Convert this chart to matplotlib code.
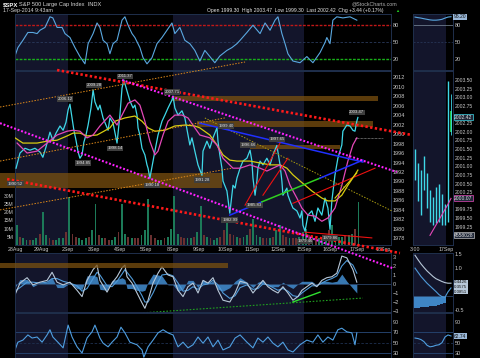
import numpy as np
import matplotlib.pyplot as plt
from matplotlib.patches import Rectangle

plt.rcParams['font.family'] = ['Liberation Sans', 'DejaVu Sans']

W, H = 480, 358
TXT = '#c8c8c8'
EDGE = '#1f2f4c'
NAVY = '#13152b'

# ---------------- data ----------------
day_labels = ['28Aug', '29Aug', '2Sep', '3Sep', '4Sep', '5Sep', '8Sep', '9Sep',
              '10Sep', '11Sep', '12Sep', '15Sep', '16Sep', '17Sep', '18Sep']
week_shade = [(0, 2), (6, 11)]          # alternating week background (days)

# SPX intraday, x = trading days since 28Aug open
price_t = [0.04, 0.19, 0.38, 0.57, 0.76, 0.95, 1.06, 1.18, 1.33, 1.44, 1.56, 1.71, 1.83,
           1.94, 2.02, 2.09, 2.17, 2.24, 2.32, 2.40, 2.47, 2.55, 2.62, 2.70, 2.78, 2.89,
           2.97, 3.04, 3.16, 3.23, 3.35, 3.46, 3.54, 3.61, 3.73, 3.88, 3.99, 4.07, 4.14,
           4.26, 4.37, 4.49, 4.56, 4.64, 4.68, 4.75, 4.83, 4.94, 5.02, 5.06, 5.13, 5.25,
           5.32, 5.44, 5.59, 5.70, 5.82, 5.97, 6.01, 6.08, 6.20, 6.35, 6.46, 6.58, 6.65,
           6.73, 6.84, 6.96, 7.11, 7.15, 7.30, 7.41, 7.53, 7.68, 7.72, 7.79, 7.87, 7.91,
           8.06, 8.17, 8.25, 8.29, 8.37, 8.44, 8.56, 8.67, 8.82, 8.94, 9.01, 9.05, 9.13,
           9.20, 9.24, 9.32, 9.43, 9.58, 9.70, 9.81, 9.96, 10.08, 10.15, 10.19, 10.34,
           10.38, 10.46, 10.57, 10.72, 10.84, 10.91, 10.95, 11.03, 11.14, 11.29, 11.41,
           11.52, 11.67, 11.79, 11.90, 11.98, 12.05, 12.17, 12.28, 12.43, 12.47, 12.62,
           12.74, 12.85, 12.93, 13.00, 13.04]
price_v = [1992.8, 1996.0, 1997.0, 1996.6, 1997.0, 1996.2, 1995.1, 1997.3, 2000.4, 1998.7,
           2000.2, 2001.7, 2000.8, 2002.5, 2005.1, 2006.3, 2003.4, 2000.8, 1998.7, 1996.2,
           1994.9, 1995.6, 1998.3, 1999.8, 2001.9, 2005.5, 2009.3, 2006.8, 2005.1, 2006.1,
           2003.4, 2001.9, 2000.8, 2003.4, 2002.3, 1998.1, 2004.0, 2009.7, 2011.4, 2009.1,
           2007.0, 2005.5, 2006.1, 2004.0, 2001.3, 1999.8, 1997.0, 1995.6, 1993.5, 1992.8,
           1990.7, 1994.3, 1996.4, 1999.8, 2002.7, 2004.0, 2005.5, 2007.2, 2008.0, 2005.5,
           2004.0, 2004.9, 2003.4, 1999.8, 1997.7, 1999.2, 1996.4, 1993.5, 1991.3, 1996.4,
           1998.5, 1997.0, 1999.2, 2001.3, 1998.5, 1995.6, 1992.8, 1990.1, 1988.0, 1983.3,
           1987.1, 1989.2, 1988.6, 1990.7, 1992.8, 1994.3, 1994.9, 1996.6, 1994.3, 1990.7,
           1987.1, 1990.1, 1992.8, 1994.3, 1993.5, 1994.9, 1993.5, 1995.6, 1997.6, 1993.5,
           1990.1, 1987.1, 1988.6, 1987.1, 1985.9, 1984.4, 1983.8, 1982.3, 1983.8, 1980.8,
           1979.5, 1982.9, 1983.8, 1981.6, 1984.4, 1982.9, 1986.5, 1984.4, 1979.9, 1985.9,
           1991.4, 1994.9, 1997.7, 2000.6, 2001.9, 2001.7, 2000.8, 2000.6, 2002.7, 2003.5]

slow_ma_t = [0.0, 0.30, 0.84, 1.22, 1.60, 1.98, 2.21, 2.47, 2.74, 3.12, 3.61, 3.80, 4.18,
             4.56, 4.83, 5.06, 5.32, 5.70, 6.08, 6.46, 6.84, 7.03, 7.41, 7.68, 7.91, 8.17,
             8.44, 8.94, 9.32, 9.70, 10.08, 10.34, 10.57, 10.84, 11.29, 11.67, 11.90, 12.17,
             12.43, 12.66, 12.93, 13.04]
slow_ma_v = [1999.2, 1998.1, 1998.1, 1998.5, 1998.7, 1999.6, 2000.2, 2000.2, 1999.6, 1999.8,
             2001.3, 2002.7, 2003.4, 2003.8, 2002.7, 2001.3, 2000.6, 2000.8, 2001.7, 2001.9,
             2001.7, 2001.3, 1999.8, 1997.7, 1995.6, 1994.5, 1994.3, 1994.3, 1993.9, 1993.5,
             1993.5, 1992.8, 1991.4, 1990.1, 1988.0, 1986.5, 1985.9, 1985.9, 1987.1, 1989.2,
             1991.4, 1992.4]

fast_ma_t = [0.08, 0.46, 0.84, 1.22, 1.60, 1.98, 2.21, 2.47, 2.74, 2.97, 3.23, 3.61, 3.88,
             4.07, 4.30, 4.56, 4.75, 4.94, 5.13, 5.32, 5.44, 5.63, 5.82, 6.08, 6.35, 6.58,
             6.84, 7.03, 7.41, 7.68, 7.91, 8.29, 8.56, 8.94, 9.32, 9.58, 9.81, 10.08, 10.27,
             10.46, 10.72, 10.91, 11.14, 11.41, 11.67, 11.90, 12.17, 12.43, 12.66, 12.85, 13.00]
fast_ma_v = [1998.1, 1996.0, 1996.4, 1998.1, 1999.8, 2000.6, 2000.8, 2000.6, 1999.2, 1999.8,
             2001.7, 2004.0, 2001.9, 2004.0, 2006.5, 2007.2, 2006.1, 2002.7, 1998.5, 1995.6,
             1996.4, 1999.8, 2002.7, 2004.0, 2004.0, 2003.4, 2001.3, 1999.8, 1999.2, 1997.7,
             1994.9, 1992.8, 1992.8, 1993.5, 1992.8, 1992.2, 1992.8, 1993.5, 1992.2, 1989.2,
             1986.5, 1984.4, 1982.9, 1982.7, 1981.6, 1982.3, 1984.4, 1989.2, 1994.3, 1997.7,
             1999.2]

# volume, 8 bars per session (millions)
vol_days = [[12, 5, 4, 3, 3, 3, 4, 7], [20, 6, 4, 3, 3, 4, 4, 8], [29, 7, 5, 4, 3, 4, 5, 9],
            [25, 6, 4, 4, 3, 3, 5, 8], [25, 7, 5, 4, 4, 4, 6, 9], [28, 6, 4, 3, 3, 4, 5, 10],
            [30, 7, 5, 4, 4, 4, 5, 8], [24, 6, 5, 4, 3, 4, 5, 9], [14, 7, 6, 5, 4, 5, 6, 10],
            [16, 6, 5, 4, 4, 4, 5, 9], [12, 6, 5, 4, 4, 4, 5, 8], [10, 6, 5, 4, 4, 5, 6, 9],
            [12, 6, 5, 5, 6, 6, 7, 10], [26]]
vol_dirs = ['grggrggr', 'ggrrgggr', 'grrgggrg', 'grgrrggr', 'ggrgrrgg', 'grrggrgg',
            'ggrrggrg', 'grgrggrr', 'grrgrggr', 'gggrrgrg', 'grrgrrgg', 'grgrgggr',
            'ggggrggr', 'g']

# peak / trough annotations
note_t = [1.90, 3.00, 4.18, 5.97, 2.59, 3.80, 0.02, 5.21, 7.11, 8.02, 8.86, 9.96, 9.10,
          8.17, 11.03, 11.98, 13.00]
note_p = [2007.4, 2010.3, 2012.2, 2008.9, 1993.9, 1997.0, 1989.5, 1989.2, 1990.3, 2001.7,
          1997.7, 1998.9, 1985.0, 1981.9, 1977.4, 1978.1, 2004.6]
note_s = ['2006.12', '2009.28', '2011.37', '2007.71', '1994.85', '1998.14', '1990.52',
          '1990.18', '1991.28', '1999.40', '1996.66', '1997.65', '1985.83', '1982.99',
          '1979.46', '1979.86', '2003.47']

# hand-drawn trendlines: (t0, p0, t1, p1)
red_upper = (1.60, 2013.5, 15.10, 1999.8)
red_lower = (-0.30, 1990.5, 14.64, 1974.9)
mag_upper = (4.07, 2011.4, 14.52, 1992.0)
mag_lower = (-0.57, 2002.3, 14.37, 1971.7)
orange_a = (-0.57, 2005.7, 8.75, 2015.2)
orange_b = (-0.57, 1994.3, 7.98, 2003.4)
orange_c = (-0.57, 1984.0, 8.25, 1992.8)
olive_line = (7.22, 2003.4, 14.33, 1983.8)
blue_upper = (7.03, 2002.3, 13.23, 1994.1)
blue_low_a = (8.17, 1982.9, 9.39, 1985.7)
green_low = (9.39, 1985.7, 11.60, 1990.7)
blue_low_b = (11.60, 1990.7, 13.23, 1994.5)
red_thin = [(8.75, 1985.0, 10.08, 1998.1), (9.43, 1987.1, 10.38, 1994.9),
            (10.57, 1985.4, 13.69, 1992.8), (11.03, 1979.3, 13.57, 1978.1)]
yellow_short = (12.17, 1986.5, 13.00, 1991.8)
prev_close = (12.93, 13.99, 1999.2)

# support / resistance zones: (t0, t1, p_low, p_high)
zones = [(5.97, 13.80, 2007.0, 2008.0), (6.92, 13.61, 2001.5, 2002.7),
         (-0.57, 7.87, 1988.6, 1991.8), (8.94, 12.36, 1996.8, 1997.7),
         (-0.57, 8.10, 1971.7, 1972.8)]

# upper oscillator (0-100)
osc1_t = [0.0, 0.11, 0.30, 0.49, 0.68, 0.84, 0.95, 1.14, 1.33, 1.44, 1.60, 1.79, 1.90, 2.09,
          2.28, 2.47, 2.66, 2.78, 2.97, 3.12, 3.23, 3.35, 3.50, 3.61, 3.73, 3.88, 4.07, 4.18,
          4.30, 4.45, 4.56, 4.75, 4.87, 5.02, 5.21, 5.40, 5.59, 5.78, 5.97, 6.08, 6.27, 6.46,
          6.65, 6.84, 7.03, 7.22, 7.41, 7.60, 7.79, 8.06, 8.25, 8.44, 8.56, 8.82, 9.05, 9.32,
          9.51, 9.70, 9.89, 10.00, 10.15, 10.27, 10.38, 10.57, 10.84, 11.10, 11.33, 11.60,
          11.79, 11.86, 11.98, 12.09, 12.24, 12.47, 12.74, 13.00]
osc1_v = [25, 40, 53, 67, 67, 65, 71, 76, 95, 93, 76, 76, 65, 58, 40, 24, 11, 47, 65, 84, 76,
          53, 47, 29, 47, 53, 89, 95, 80, 65, 58, 40, 22, 11, 22, 47, 58, 71, 84, 65, 76, 53,
          47, 35, 16, 35, 24, 13, 25, 35, 40, 47, 53, 67, 80, 65, 84, 71, 89, 95, 65, 47, 29,
          16, 13, 24, 13, 31, 49, 58, 47, 89, 95, 93, 95, 89]

# MACD panel
macd_t = [0.0, 0.19, 0.46, 0.68, 0.95, 1.22, 1.41, 1.60, 1.83, 2.09, 2.36, 2.55, 2.74, 2.97,
          3.12, 3.23, 3.50, 3.69, 3.88, 4.07, 4.18, 4.26, 4.45, 4.64, 4.83, 4.94, 5.06, 5.25,
          5.44, 5.59, 5.82, 6.01, 6.20, 6.39, 6.58, 6.77, 6.96, 7.15, 7.34, 7.53, 7.72, 7.91,
          8.17, 8.37, 8.56, 8.82, 9.05, 9.24, 9.43, 9.62, 9.81, 10.00, 10.19, 10.38, 10.57,
          10.76, 10.91, 11.10, 11.29, 11.48, 11.67, 11.86, 12.05, 12.24, 12.43, 12.62, 12.85,
          13.00]
macd_v = [-1.2, 0.1, 0.7, -0.1, 0.2, 0.4, 1.3, 0.2, -0.1, 0.2, -0.7, -1.4, 0.4, 1.6, 2.1,
          0.4, -0.9, 0.1, 0.8, 1.8, 2.1, 0.8, 0.1, -1.0, -2.1, -2.7, -1.8, 0.1, 1.2, 1.9, 1.0,
          0.8, -0.7, -1.4, -0.3, 0.1, -1.0, 0.4, 0.1, 0.7, -0.7, -1.8, -2.0, -1.0, 0.3, 0.1,
          -1.0, -0.3, 0.4, -0.3, -0.7, -1.0, -0.3, -1.0, -1.8, -1.4, -0.7, -0.3, 0.1, -0.3,
          0.4, 0.7, 0.8, 1.2, 3.1, 2.9, 1.6, 0.2]
signal_v = [-0.8, -0.4, 0.2, 0.2, 0.1, 0.2, 0.6, 0.6, 0.3, 0.1, -0.2, -0.8, -0.5, 0.6, 1.3,
            1.0, -0.2, -0.3, 0.3, 1.1, 1.6, 1.3, 0.6, -0.3, -1.3, -2.0, -2.0, -1.0, 0.2, 1.0,
            1.1, 0.9, 0.1, -0.8, -0.7, -0.3, -0.6, -0.1, 0.0, 0.4, -0.1, -1.0, -1.6, -1.3,
            -0.4, -0.1, -0.6, -0.5, 0.0, -0.1, -0.4, -0.7, -0.5, -0.8, -1.3, -1.4, -1.0,
            -0.6, -0.2, -0.2, 0.1, 0.4, 0.6, 0.9, 2.0, 2.6, 2.1, 1.2]
macd_green_dots = (4.87, -3.2, 13.23, -1.56)
macd_green_line = (10.57, -2.0, 11.60, -0.9)

# lower RSI
rsi_t = [0.0, 0.11, 0.30, 0.49, 0.65, 0.84, 1.03, 1.22, 1.33, 1.44, 1.63, 1.83, 2.02, 2.17,
         2.36, 2.55, 2.74, 2.93, 3.04, 3.23, 3.35, 3.54, 3.69, 3.88, 4.03, 4.18, 4.37, 4.64,
         4.83, 4.90, 5.06, 5.25, 5.44, 5.63, 5.82, 6.01, 6.20, 6.39, 6.58, 6.77, 6.96, 7.15,
         7.34, 7.53, 7.72, 7.91, 8.17, 8.37, 8.56, 8.82, 9.05, 9.24, 9.43, 9.62, 9.81, 10.00,
         10.19, 10.38, 10.57, 10.84, 11.10, 11.33, 11.52, 11.71, 11.90, 12.09, 12.28, 12.43,
         12.62, 12.81, 12.93, 13.00]
rsi_v = [36, 51, 55, 65, 59, 61, 51, 65, 75, 61, 51, 40, 84, 61, 42, 30, 59, 71, 84, 59, 49,
         42, 51, 61, 80, 69, 51, 46, 36, 22, 42, 55, 69, 75, 69, 65, 42, 51, 40, 46, 61, 49,
         61, 42, 55, 36, 42, 59, 65, 51, 40, 59, 51, 61, 49, 42, 51, 36, 32, 46, 55, 51, 65,
         51, 61, 55, 75, 78, 71, 69, 46, 69]

# right-hand intraday strip (last hour of 16Sep + 17Sep open, 1-min bars)
mini_hi = [2001.5, 2001.1, 2000.9, 2001.3, 2000.8, 2000.3, 2000.1, 2000.4, 2000.5, 2000.2,
           1999.9, 2003.47, 2003.1]
mini_lo = [2000.6, 2000.0, 1999.6, 2000.3, 1999.8, 1999.4, 1999.3, 1999.35, 1999.4, 1999.3,
           1999.3, 1999.4, 2001.9]
mini_open_close = (2002.0, 2002.6)
mini_ma = [1999.0, 1999.15, 1999.3, 1999.45, 1999.6, 1999.75, 1999.9, 2000.07]
mini_ticks = [1999.25, 1999.50, 1999.75, 2000.25, 2000.50, 2000.75, 2001.00, 2001.25,
              2001.50, 2001.75, 2002.00, 2002.25, 2002.75, 2003.00, 2003.25, 2003.50]
mini_osc1 = [94.5, 93.5, 92.7, 91.5, 90.5, 89.5, 89, 89, 89.5, 90.5, 92.7, 94.5, 95.2]
mini_macd = [1.46, 1.30, 1.15, 1.02, 0.90, 0.80, 0.70, 0.62, 0.57, 0.52, 0.48, 0.46, 0.46]
mini_signal = [1.0, 0.85, 0.70, 0.58, 0.46, 0.36, 0.26, 0.16, 0.05, -0.02, -0.04, 0.15, 0.29]
mini_hist = [-0.43, -0.42, -0.40, -0.40, -0.38, -0.37, -0.36, -0.35, -0.33, -0.30, -0.25]
mini_rsi = [59, 58, 56, 52, 45, 42, 43, 45, 46, 50, 61, 65, 63]


# ---------------- drawing ----------------
fig = plt.figure(figsize=(W / 100, H / 100), dpi=100, facecolor='black')


def panel(x0, y0, x1, y1, z=2, face='black'):
    ax = fig.add_axes([x0 / W, 1 - y1 / H, (x1 - x0) / W, (y1 - y0) / H], zorder=z)
    ax.set_facecolor(face)
    for s in ax.spines.values():
        s.set_color(EDGE)
        s.set_linewidth(0.7)
    ax.tick_params(length=0, labelsize=4, colors=TXT, pad=1.5)
    ax.yaxis.tick_right()
    ax.set_xticks([])
    return ax


def shade(ax):
    for a, b in week_shade:
        ax.axvspan(a, b, color=NAVY, lw=0, zorder=0)


def seg(ax, line, **kw):
    t0, p0, t1, p1 = line
    ax.plot([t0, t1], [p0, p1], clip_on=False, **kw)


XMAX = 14.30
main_x = (15, 391)
mini_x = (413, 453)

# top oscillator
ax1 = panel(main_x[0], 14, main_x[1], 70)
shade(ax1)
ax1.set_xlim(0, XMAX)
ax1.set_ylim(0, 100)
ax1.axhline(80, color='#c01818', lw=1.0, ls=(0, (2, 1)))
ax1.axhline(50, color='#2a3a5c', lw=0.6, ls=(0, (3, 2)))
ax1.axhline(20, color='#18b018', lw=1.0, ls=(0, (2, 1)))
ax1.plot(osc1_t, osc1_v, color='#5aa8e0', lw=0.8)
ax1.set_yticks([20, 50, 80])

# volume (behind) + price (front)
axv = panel(main_x[0], 71, main_x[1], 245)
shade(axv)
axv.set_xlim(0, XMAX)
axv.set_ylim(0, 106)
for day, (vals, dirs) in enumerate(zip(vol_days, vol_dirs)):
    xs = day + (np.arange(len(vals)) + 0.5) / 8
    cols = ['#1c7a58' if c == 'g' else '#6a3030' for c in dirs]
    axv.bar(xs, vals, width=0.07, color=cols, lw=0)
axv.yaxis.tick_left()
axv.set_yticks([5, 10, 15, 20, 25, 30])
axv.set_yticklabels([f'{v}M' for v in [5, 10, 15, 20, 25, 30]])
axv.tick_params(labelsize=3.6, pad=1)

axp = panel(main_x[0], 71, main_x[1], 245, z=5, face='none')
axp.set_xlim(0, XMAX)
axp.set_ylim(1976.6, 2013.3)
axp.set_yticks(np.arange(1978, 2013, 2))
axp.set_xticks(range(len(day_labels)))
axp.set_xticklabels(day_labels)
axp.tick_params(axis='x', labelsize=3.8, pad=1.2)

for t0, t1, lo, hi in zones:
    axp.add_patch(Rectangle((t0, lo), t1 - t0, hi - lo, fc='#7a5010', ec='none',
                            alpha=0.75, zorder=1, clip_on=False))

axp.plot(price_t, price_v, color='#3fd8e8', lw=0.9, zorder=3)
axp.plot(slow_ma_t, slow_ma_v, color='#d8cc10', lw=0.9, zorder=4)
axp.plot(fast_ma_t, fast_ma_v, color='#e448b8', lw=0.9, zorder=4)

dots = (0, (0.9, 0.9))
seg(axp, red_upper, color='#ff1a1a', lw=1.9, ls=dots, zorder=6)
seg(axp, red_lower, color='#ff1a1a', lw=1.9, ls=dots, zorder=6)
seg(axp, mag_upper, color='#ff22ff', lw=1.5, ls=dots, zorder=6)
seg(axp, mag_lower, color='#ff22ff', lw=1.5, ls=dots, zorder=6)
for ln in (orange_a, orange_b, orange_c):
    seg(axp, ln, color='#e08a1a', lw=0.7, ls=(0, (1.5, 1.5)), zorder=5)
seg(axp, olive_line, color='#a89a10', lw=0.7, ls=(0, (1.5, 1.5)), zorder=5)
seg(axp, blue_upper, color='#2030ff', lw=1.1, zorder=5)
seg(axp, blue_low_a, color='#2030ff', lw=1.1, zorder=5)
seg(axp, green_low, color='#30d020', lw=1.1, zorder=5)
seg(axp, blue_low_b, color='#2030ff', lw=1.1, zorder=5)
for ln in red_thin:
    seg(axp, ln, color='#ee1111', lw=0.8, zorder=5)
seg(axp, yellow_short, color='#e0d010', lw=0.8, zorder=5)
axp.plot(prev_close[:2], [prev_close[2]] * 2, color='#bbbbbb', lw=0.5,
         ls=(0, (1, 1)), zorder=5, clip_on=False)

for t, p, s in zip(note_t, note_p, note_s):
    axp.text(t, p, s, fontsize=3.1, color='#e6e6e6', ha='center', va='center', zorder=7,
             clip_on=False,
             bbox=dict(boxstyle='square,pad=0.15', fc='#3e3e3e', ec='none'))

# MACD
axm = panel(main_x[0], 253, main_x[1], 312)
shade(axm)
axm.set_xlim(0, XMAX)
axm.set_ylim(-3.11, 3.44)
axm.axhline(0, color='#2a4266', lw=0.6)
hist = np.array(macd_v) - np.array(signal_v)
axm.fill_between(macd_t, hist, 0, color='#3f86c6', lw=0, alpha=0.9)
axm.plot(macd_t, signal_v, color='#4f9ad8', lw=0.8)
axm.plot(macd_t, macd_v, color='#b8c8d8', lw=0.8)
seg(axm, macd_green_dots, color='#20a020', lw=0.8, ls=(0, (1.5, 1.5)))
seg(axm, macd_green_line, color='#30e030', lw=1.0)
axm.set_yticks([-3, -2, -1, 0, 1, 2, 3])

# lower RSI
axr = panel(main_x[0], 313, main_x[1], 358)
shade(axr)
axr.set_xlim(0, XMAX)
axr.set_ylim(20.4, 107.4)
axr.axhline(70, color='#24406a', lw=0.7)
axr.axhline(30, color='#24406a', lw=0.7)
axr.axhline(50, color='#1e3050', lw=0.6, ls=(0, (3, 2)))
axr.plot(rsi_t, rsi_v, color='#4f9ee0', lw=0.8)
axr.set_yticks([30, 50, 70, 90])

# ---- right-hand intraday strip ----
mx = np.arange(len(mini_hi))
mlim = (-0.67, 12.67)


def mini_shade(ax):
    ax.axvspan(mlim[0], 10.33, color=NAVY, lw=0, zorder=0)


bm1 = panel(mini_x[0], 14, mini_x[1], 70)
mini_shade(bm1)
bm1.set_xlim(*mlim)
bm1.set_ylim(0, 100)
bm1.axhline(80, color='#8090a0', lw=0.5)
bm1.axhline(50, color='#2a3a5c', lw=0.5, ls=(0, (3, 2)))
bm1.plot(mx, mini_osc1, color='#5aa8e0', lw=0.8)
bm1.set_yticks([20, 50, 80])
bm1.text(1.02, 0.95, '95.20', transform=bm1.transAxes, fontsize=3.6, color='#101010',
         va='center', bbox=dict(boxstyle='square,pad=0.12', fc='#9ab8d8', ec='none'))

bm2 = panel(mini_x[0], 71, mini_x[1], 245)
mini_shade(bm2)
bm2.set_xlim(*mlim)
bm2.set_ylim(1998.72, 2003.76)
bm2.vlines(mx[:-1], mini_lo[:-1], mini_hi[:-1], color='#3fd8e8', lw=1.0)
bm2.vlines(mx[-1:], mini_lo[-1:], mini_hi[-1:], color='#3fd8e8', lw=0.6)
bm2.bar(mx[-1], mini_open_close[1] - mini_open_close[0], bottom=mini_open_close[0],
        width=0.8, color='#20c040', lw=0)
bm2.plot(mx[-len(mini_ma):], mini_ma, color='#e448b8', lw=0.8)
bm2.set_yticks(mini_ticks)
bm2.set_yticklabels([f'{v:.2f}' for v in mini_ticks])
bm2.tick_params(labelsize=3.6)
bm2.set_xticks([0, 10.3])
bm2.set_xticklabels(['3:00', '17Sep'])
bm2.tick_params(axis='x', labelsize=3.8, pad=1.2)
for val, s, ec in [(2002.42, '2002.42', '#3fd8e8'), (2000.07, '2000.07', '#e448b8'),
                   (1999.0, '4558028', '#c0c0c0')]:
    bm2.text(1.03, (val - 1998.72) / (2003.76 - 1998.72), s, transform=bm2.transAxes,
             fontsize=3.6, color='#e0e0e0', va='center',
             bbox=dict(boxstyle='square,pad=0.12', fc='#202838', ec=ec, lw=0.5))

bm3 = panel(mini_x[0], 253, mini_x[1], 312)
mini_shade(bm3)
bm3.set_xlim(*mlim)
bm3.set_ylim(-0.57, 1.54)
bm3.axhline(0, color='#2a4266', lw=0.6)
bm3.bar(mx[:len(mini_hist)], mini_hist, width=1.0, color='#3f86c6', lw=0)
bm3.plot(mx, mini_signal, color='#4f9ad8', lw=0.8)
bm3.plot(mx, mini_macd, color='#b8c8d8', lw=0.8)
bm3.set_yticks([-0.5, 1.0, 1.5])
bm3.set_yticklabels(['-0.5', '1.0', '1.5'])
for val, s in [(0.50, '0.4426'), (0.33, '0.3575'), (0.16, '0.0851')]:
    bm3.text(1.03, (val + 0.57) / 2.11, s, transform=bm3.transAxes, fontsize=3.2,
             color='#101010', va='center',
             bbox=dict(boxstyle='square,pad=0.08', fc='#b8c8d8', ec='none'))

bm4 = panel(mini_x[0], 313, mini_x[1], 358)
mini_shade(bm4)
bm4.set_xlim(*mlim)
bm4.set_ylim(20.4, 107.4)
bm4.axhline(70, color='#24406a', lw=0.7)
bm4.axhline(30, color='#24406a', lw=0.7)
bm4.axhline(50, color='#1e3050', lw=0.6, ls=(0, (3, 2)))
bm4.plot(mx, mini_rsi, color='#4f9ee0', lw=0.8)
bm4.set_yticks([30, 50, 90])
bm4.text(1.03, (62.74 - 20.4) / 87, '62.74', transform=bm4.transAxes, fontsize=3.5,
         color='#101010', va='center',
         bbox=dict(boxstyle='square,pad=0.12', fc='#9ab8d8', ec='none'))

# ---- header ----
fig.text(3 / W, 1 - 4.5 / H, '$SPX', fontsize=4.3, color='white', weight='bold', va='center')
fig.text(19 / W, 1 - 4.5 / H, 'S&P 500 Large Cap Index  INDX', fontsize=4.1, color='#d8d8d8',
         va='center')
fig.text(3 / W, 1 - 10.5 / H, '17-Sep-2014 9:43am', fontsize=3.8, color='#d8d8d8', va='center')
fig.text(207 / W, 1 - 10.5 / H,
         'Open 1999.30  High 2003.47  Low 1999.30  Last 2002.42  Chg +3.44 (+0.17%)',
         fontsize=3.6, color='#e8e8e8', va='center')
fig.text(395 / W, 1 - 10.5 / H, '\u25b2', fontsize=3, color='#20d020', va='center')
fig.text(352 / W, 1 - 3.5 / H, '@StockCharts.com', fontsize=3.8, color='#b0b0b0', va='center')

fig.savefig('out.png', dpi=100, facecolor='black')
